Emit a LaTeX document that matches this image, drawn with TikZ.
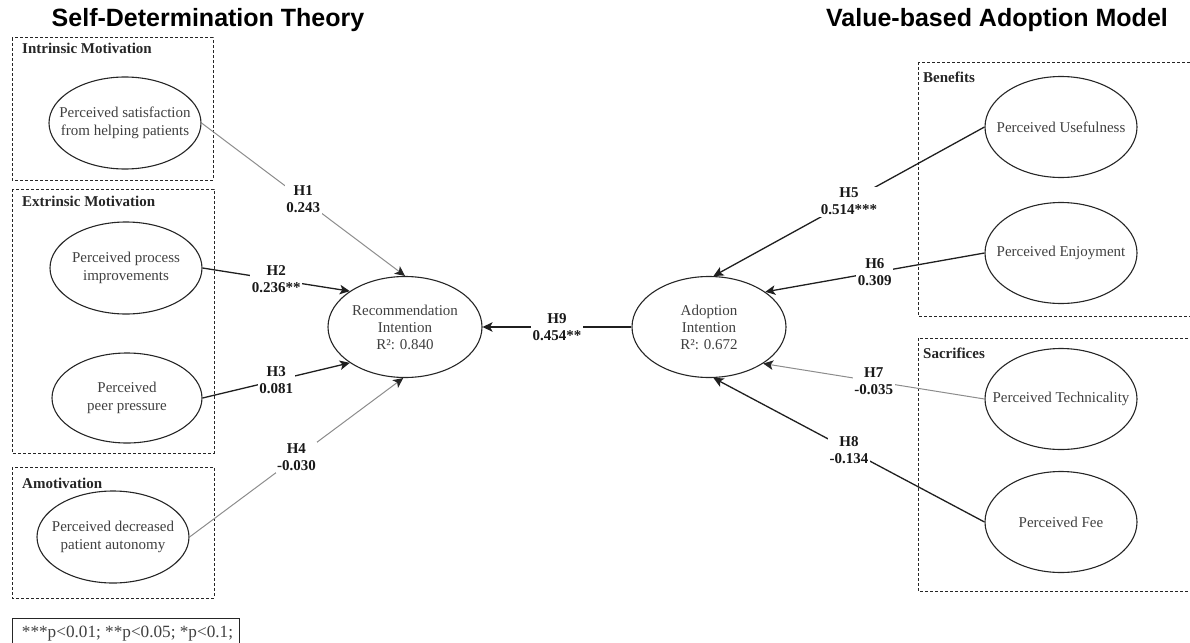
\documentclass[tikz,border=0pt]{standalone}
\usepackage{fontspec}
\setmainfont{Liberation Serif}
\newfontfamily\titlefont{Liberation Sans}
\usetikzlibrary{arrows.meta,shapes.geometric}

\begin{document}
\begin{tikzpicture}[x=1pt,y=-1pt,
  every node/.style={inner sep=0pt},
  ctext/.style={inner sep=0pt,align=center,text=black!75},
  latent/.style={ellipse,draw=black!85,line width=1.1pt,minimum width=152pt,
    minimum height=92pt,label={[ctext,font=\fontsize{15}{18}\selectfont]center:#1}},
  bigl/.style={ellipse,draw=black!85,line width=1.1pt,minimum width=154pt,
    minimum height=101pt,label={[ctext,font=\fontsize{15}{17}\selectfont]center:#1}},
  rightl/.style={latent=#1,minimum width=152pt,minimum height=101pt},
  grp/.style={draw=black!85,line width=1pt,dash pattern=on 3pt off 2pt},
  grplabel/.style={anchor=base west,font=\fontsize{15}{18}\selectfont\bfseries,text=black!85},
  strong/.style={line width=1.3pt,draw=black!88,
    -{Stealth[length=10pt,width=9.5pt,inset=2.5pt]}},
  weak/.style={line width=1pt,draw=black!45,
    -{Stealth[length=10pt,width=9.5pt,inset=2.5pt,color=black!85]}},
  coef/.style={fill=white,inner sep=1.5pt,align=center,
    font=\fontsize{15}{17}\selectfont\bfseries,text=black!90},
  theory/.style={anchor=base,font=\titlefont\bfseries\fontsize{25}{30}\selectfont}
]
\useasboundingbox (0,0) rectangle (1190,642);
\clip (0,0) rectangle (1190,642);

% theory headings
\node[theory] (tsdt) at (208,27) {Self-Determination Theory};
\node[theory] (tvam) at (997,27) {Value-based Adoption Model};

% motivation groups
\draw[grp] (12,38) rectangle (213,180);
\draw[grp] (12,189) rectangle (214,453);
\draw[grp] (12,467) rectangle (214,598);
\node[grplabel] (gint) at (22,54) {Intrinsic Motivation};
\node[grplabel] (gext) at (22,206) {Extrinsic Motivation};
\node[grplabel] (gamo) at (22,488) {Amotivation};

% benefits and sacrifices groups
\draw[grp] (918,62) rectangle (1210,316);
\draw[grp] (918,338) rectangle (1210,591);
\node[grplabel] (gben) at (923,82) {Benefits};
\node[grplabel] (gsac) at (923,358) {Sacrifices};

% constructs
\node[latent={Perceived satisfaction\\from helping patients}] (sat) at (125,123) {};
\node[latent={Perceived process\\improvements}] (proc) at (126,268) {};
\node[latent={Perceived\\peer pressure},minimum width=150pt,minimum height=90pt] (peer) at (127,398) {};
\node[latent={Perceived decreased\\patient autonomy}] (auto) at (113,537) {};

\node[bigl={Recommendation\\Intention\\R²: 0.840}] (rec) at (405,327) {};
\node[bigl={Adoption\\Intention\\R²: 0.672}] (ado) at (709,327) {};

\node[rightl={Perceived Usefulness}] (use) at (1061,127) {};
\node[rightl={Perceived Enjoyment}] (enj) at (1061,253) {};
\node[rightl={Perceived Technicality}] (tech) at (1061,399) {};
\node[rightl={Perceived Fee}] (fee) at (1061,522) {};

% structural paths
\draw[weak] (sat.east) -- node[coef] (h1) {H1\\0.243} (rec.north);
\draw[strong] (proc.east) -- node[coef] (h2) {H2\\0.236**} (rec.147);
\draw[strong] (peer.east) -- node[coef] (h3) {H3\\0.081} (rec.213);
\draw[weak] (auto.east) -- node[coef] (h4) {H4\\-0.030} (rec.268);

\draw[strong] (use.west) -- node[coef] (h5) {H5\\0.514***} (ado.85);
\draw[strong] (enj.west) -- node[coef] (h6) {H6\\0.309} (ado.32);
\draw[weak] (tech.west) -- node[coef] (h7) {H7\\-0.035} (ado.326);
\draw[strong] (fee.west) -- node[coef] (h8) {H8\\-0.134} (ado.275);

\draw[strong] (ado.west) -- node[coef] (h9) {H9\\0.454**} (rec.east);

% significance legend
\draw[line width=1pt,draw=black!85] (12,618) rectangle (239,660);
\node[anchor=base,font=\fontsize{17.2}{19}\selectfont,text=black!75] (sig) at (127.5,637)
  {***p<0.01; **p<0.05; *p<0.1;};
\end{tikzpicture}
\end{document}
